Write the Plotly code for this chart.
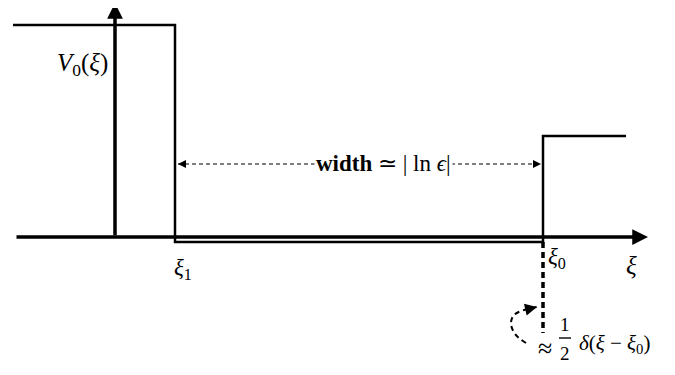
import plotly.graph_objects as go

# schematic of the potential V0(xi): barrier, flat gap of width ~ |ln eps|, step at xi0
# units are arbitrary drawing units (0..675 across, 0..375 up)

axis_x = [15, 648]          # xi axis, left end -> arrow tip
axis_y = 138
vaxis_x = 115
vaxis_y = [138, 372]        # V axis, bottom -> arrow tip

pot_x = [13, 175, 175, 543, 543, 626]
pot_y = [350, 350, 133, 133, 239, 239]

width_y = 211
width_x = [178, 541]

delta_x = [543, 543]
delta_y = [133, 42]

curl_x = [526, 515, 511, 514, 524, 537]
curl_y = [32, 41, 52, 60, 65, 68]

FONT = "Liberation Serif"

fig = go.Figure()

# potential
fig.add_trace(go.Scatter(x=pot_x, y=pot_y, mode="lines",
                         line=dict(color="black", width=2.5), hoverinfo="skip"))
# dashed width line
fig.add_trace(go.Scatter(x=width_x, y=[width_y, width_y], mode="lines",
                         line=dict(color="black", width=1, dash="4px,3px"), hoverinfo="skip"))
# delta function (thick dashes)
fig.add_trace(go.Scatter(x=delta_x, y=delta_y, mode="lines",
                         line=dict(color="black", width=3.5, dash="6px,4px"), hoverinfo="skip"))
# curly dashed arrow
fig.add_trace(go.Scatter(x=curl_x, y=curl_y, mode="lines", line_shape="spline",
                         line=dict(color="black", width=2, dash="5px,4px"), hoverinfo="skip"))

arrows = [
    # xi axis
    dict(x=axis_x[1], y=axis_y, ax=axis_x[0], ay=axis_y, w=3.5, size=0.9),
    # V axis
    dict(x=vaxis_x, y=vaxis_y[1], ax=vaxis_x, ay=vaxis_y[0], w=3.5, size=0.9),
    # width arrow heads
    dict(x=width_x[0], y=width_y, ax=width_x[0] + 8, ay=width_y, w=1, size=1.6),
    dict(x=width_x[1], y=width_y, ax=width_x[1] - 8, ay=width_y, w=1, size=1.6),
    # curl arrow head
    dict(x=curl_x[-1], y=curl_y[-1], ax=curl_x[-2], ay=curl_y[-2], w=2, size=1.2),
]
for a in arrows:
    fig.add_annotation(x=a["x"], y=a["y"], ax=a["ax"], ay=a["ay"],
                       xref="x", yref="y", axref="x", ayref="y",
                       text="", showarrow=True, arrowhead=2,
                       arrowwidth=a["w"], arrowsize=a["size"], arrowcolor="black")

labels = [
    dict(x=82, y=311, t="<i>V</i><sub>0</sub>(<i>ξ</i>)", s=25),
    dict(x=183, y=106, t="<i>ξ</i><sub>1</sub>", s=23),
    dict(x=557, y=117, t="<i>ξ</i><sub>0</sub>", s=23),
    dict(x=631, y=110, t="<i>ξ</i>", s=25),
    dict(x=383, y=212, t="<b>width</b> ≃ | ln <i>ϵ</i>|", s=23),
    dict(x=545, y=27, t="≈", s=26),
    dict(x=565, y=51, t="1", s=19),
    dict(x=565, y=22, t="2", s=19),
    dict(x=614, y=31, t="<i>δ</i>(<i>ξ</i> − <i>ξ</i><sub>0</sub>)", s=21),
]
for l in labels:
    fig.add_annotation(x=l["x"], y=l["y"], xref="x", yref="y", text=l["t"],
                       showarrow=False, font=dict(family=FONT, size=l["s"], color="black"),
                       bgcolor="white" if "width" in l["t"] else "rgba(0,0,0,0)",
                       borderpad=1)

# fraction bar
fig.add_shape(type="line", x0=559, x1=571, y0=37, y1=37, xref="x", yref="y",
              line=dict(color="black", width=1.4))

fig.update_layout(
    width=675,
    height=375,
    margin=dict(l=0, r=0, t=0, b=0),
    plot_bgcolor="white",
    paper_bgcolor="white",
    showlegend=False,
)
# the page body adds an 8px offset, so the ranges are shifted to compensate
fig.update_xaxes(range=[8, 683], visible=False)
fig.update_yaxes(range=[-8, 367], visible=False)

fig.write_html("out.html")
